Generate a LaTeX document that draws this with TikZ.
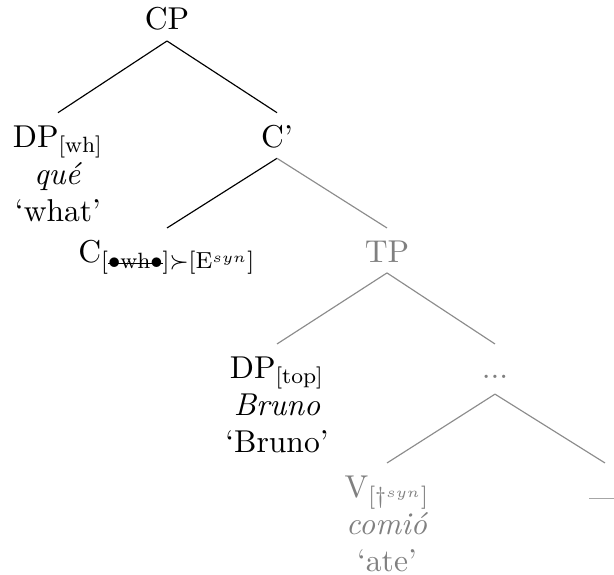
\documentclass[tikz,border=0pt]{standalone}
\usepackage{amsmath}
\newcommand\tstrut{\rule{0pt}{8.2pt}}
\newcommand\mystrike[1]{\setbox0=\hbox{#1}\rlap{\rule[0.5ex]{\wd0}{0.4pt}}\box0}
\begin{document}
\begin{tikzpicture}[x=0.345pt,y=-0.345pt,
  font=\fontsize{10.9pt}{12.8pt}\selectfont,
  tn/.style={inner xsep=1pt, inner ysep=3.45pt, anchor=north, align=center},
  gr/.style={text=black!50},
  edge/.style={draw=black, line width=0.4pt},
  gedge/.style={draw=black!45, line width=0.4pt}]
\useasboundingbox (0,0) rectangle (614,575);
\node[tn, anchor=south] (cp) at (167,41) {\tstrut CP};
\node[tn] (dpwh) at (58,112.7) {\tstrut DP$_{\text{[wh]}}$\\\textit{qué}\\`what'};
\node[tn] (cbar) at (277,112.7) {\tstrut C'};
\node[tn] (c) at (167,228) {\tstrut C$_{[\text{\mystrike{$\bullet$wh$\bullet$}}]\succ[\mathrm{E}^{syn}]}$};
\node[tn, gr] (tp) at (387,228) {\tstrut TP};
\node[tn] (dptop) at (277,344) {\tstrut DP$_{\text{[top]}}$\\\textit{Bruno}\\`Bruno'};
\node[tn, gr] (dots) at (495,344) {\tstrut\rule[-1.8pt]{0pt}{1pt}.\kern0pt.\kern0pt.};
\node[tn, gr] (v) at (387,463) {\tstrut V$_{[\dagger^{syn}]}$\\\textit{comió}\\`ate'};
\node[tn, gr] (dash) at (605,463) {\tstrut\raisebox{-3.4pt}{---}};
\draw[edge] (cp.south) -- (dpwh.north);
\draw[edge] (cp.south) -- (cbar.north);
\draw[edge] (cbar.south) -- (c.north);
\draw[gedge] (cbar.south) -- (tp.north);
\draw[gedge] (tp.south) -- (dptop.north);
\draw[gedge] (tp.south) -- (dots.north);
\draw[gedge] (dots.south) -- (v.north);
\draw[gedge] (dots.south) -- (dash.north);
\end{tikzpicture}
\end{document}
